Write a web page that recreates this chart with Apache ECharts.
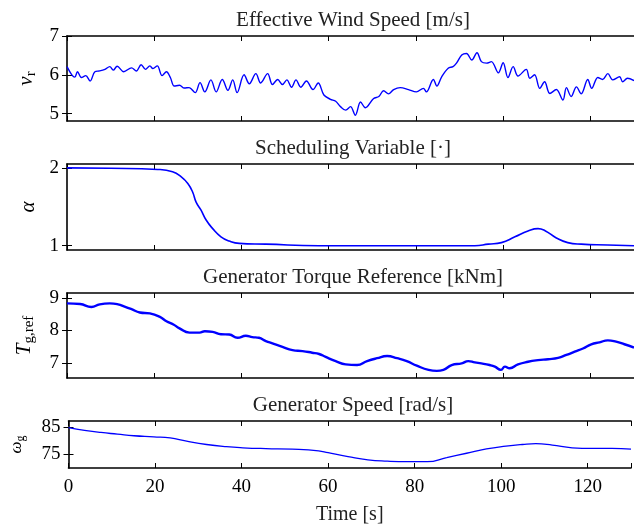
<!DOCTYPE html>
<html><head><meta charset="utf-8">
<script src="https://cdn.jsdelivr.net/npm/echarts@6/dist/echarts.min.js"></script>
<style>html,body{margin:0;padding:0;background:#fff;overflow:hidden}#c{width:634px;height:527px}</style>
</head><body><div id="c"></div>
<script>
// ---- data (time in s) ----
const xTicks = [0, 20, 40, 60, 80, 100, 120];
const titles = ['Effective Wind Speed [m/s]', 'Scheduling Variable [\u00b7]', 'Generator Torque Reference [kNm]', 'Generator Speed [rad/s]'];

const windT = [0,1.1,1.8,2.4,3.3,4.3,5.3,6.4,7.5,8.7,9.8,10.6,11.5,13,14.8,15.9,17,18,19,19.7,20.7,21.8,22.8,23.7,24.6,25.8,26.9,28,29.4,30.5,31.6,33,34.2,35.6,36.9,38,39,40.6,41.8,43.3,44.4,46,47.1,48.3,49.4,50.4,51.5,52.5,53.6,54.9,56.4,57.6,58.9,60.4,61.6,62.7,63.9,65,66.1,67.3,68.4,70.3,71.5,72.6,73.7,74.9,76.4,78.3,80.1,81.7,82.4,84,84.8,85.9,87.4,88.5,89.3,90.5,91.6,92.8,94,95,96.2,97.3,98.9,100,101.1,102.3,103.4,105.3,106.1,107.2,108.4,109.5,110.7,112.2,113.7,114.5,115.6,116.8,117.9,119.4,120.3,121.7,122.8,124,125.1,126.7,127.4,128.5,130];
const windV = [6.21,6.0,5.94,6.08,5.93,5.98,5.84,6.08,6.10,6.14,6.21,6.12,6.22,6.08,6.18,6.10,6.26,6.14,6.23,6.16,6.23,5.98,6.08,5.93,5.71,5.73,5.66,5.67,5.54,5.80,5.56,5.87,5.56,5.88,5.60,5.87,5.54,6.00,5.77,6.03,5.79,6.03,5.75,5.88,5.75,5.87,5.68,5.87,5.68,5.84,5.62,5.79,5.48,5.37,5.32,5.18,5.09,5.18,4.96,5.30,5.15,5.39,5.44,5.59,5.51,5.62,5.67,5.62,5.56,5.65,5.56,5.88,5.71,5.95,6.17,6.21,6.30,6.51,6.55,6.38,6.57,6.34,6.30,6.34,6.05,6.31,5.93,6.21,5.97,6.14,5.91,6.00,5.65,5.82,5.52,5.62,5.35,5.67,5.44,5.69,5.51,5.88,5.65,5.93,5.88,6.03,5.87,5.95,5.82,5.91,5.85];

const alphaT = [0,10,20.8,24.2,26.2,27.7,28.8,29.6,30.7,31.9,33.4,35.3,37.2,39.5,45.6,57.8,80,93.5,96.6,99.6,102.7,105.7,108,109.7,112.2,114.8,117.9,124,130];
const alphaV = [2.0,1.995,1.98,1.95,1.885,1.80,1.69,1.56,1.46,1.33,1.22,1.115,1.06,1.03,1.02,1.0,1.0,1.0,1.02,1.04,1.115,1.19,1.22,1.19,1.10,1.04,1.02,1.01,1.0];

const torqT = [0,3,5.6,7.5,9.8,11.7,13.2,14.8,16.7,19,21.2,22.8,24.4,25.8,28.1,30.4,31.6,33.4,35.3,37.2,39.1,41,42.5,44,45.6,47.1,49.4,51.7,54,56.2,57.8,59.3,61.6,63.9,66.5,68.8,71.1,73.4,75.7,77.9,80.2,82.9,84.8,86.3,88.2,90.5,92,93.5,95,96.9,98.1,99.5,100.4,101.5,103.4,105.7,108,110.3,112.6,114.5,116.4,118.3,120.2,122.1,124,125.9,127.8,130];
const torqV = [8.83,8.81,8.72,8.80,8.83,8.80,8.73,8.65,8.55,8.52,8.42,8.28,8.18,8.06,7.93,7.93,7.97,7.95,7.88,7.87,7.77,7.83,7.79,7.77,7.67,7.60,7.49,7.39,7.36,7.31,7.27,7.18,7.05,6.95,6.93,7.05,7.14,7.21,7.14,7.05,6.91,6.78,6.75,6.78,6.93,6.98,7.05,7.01,6.98,6.93,6.88,6.78,6.88,6.83,6.95,7.03,7.08,7.11,7.15,7.24,7.34,7.44,7.57,7.63,7.69,7.65,7.57,7.47];

const speedT = [0,3.7,7.5,11.3,15.1,19.7,23.5,27.3,31.9,36.5,40.3,45.6,51.7,57.8,60,64.6,69.2,73.7,78.3,82.9,87.4,92,96.6,101.1,104.9,108,111.8,116.4,121,125.6,130];
const speedV = [84.8,83.8,83.0,82.4,81.8,81.4,81.0,79.8,78.6,77.8,77.4,77.1,76.9,76.3,75.6,74.2,73.0,72.5,72.3,72.3,73.8,75.4,77.0,78.0,78.6,78.9,78.4,77.4,77.2,77.2,76.9];

const yTicks = [[5,6,7],[1,2],[7,8,9],[75,85]];
const yRange = [[4.81,7],[0.945,2.05],[6.53,9.15],[70,87.2]];

// ---- layout ----
const FONT = 'Liberation Serif';
const gridTop = [36, 164, 293, 421];
const gridH = [85, 86, 85, 47];
const L = 67, W = 570;
const pairs = (t, v) => t.map((x, i) => [x, v[i]]);
const series = [pairs(windT, windV), pairs(alphaT, alphaV), pairs(torqT, torqV), pairs(speedT, speedV)];
const lineW = [1.4, 1.6, 2.4, 1.3];
const names = ['{i|v}{s|r}', '{i|\u03b1}', '{i|T}{s|g,ref}', '{i2|\u03c9}{s2|g}'];
const nameGaps = [25, 26, 30, 42];

const grids = [], xAxes = [], yAxes = [], ser = [], ttl = [];
for (let k = 0; k < 4; k++) {
  grids.push({ left: L, width: W, top: gridTop[k], height: gridH[k] });
  const axLine = { show: true, onZero: false, lineStyle: { color: '#000', width: 1.6 } };
  const tick = { show: true, inside: true, length: 5, lineStyle: { color: '#000', width: 1 } };
  xAxes.push({ type: 'value', gridIndex: k, min: 0, max: 130, interval: 20, position: 'bottom',
    axisLine: axLine, axisTick: tick, splitLine: { show: false },
    axisLabel: { show: k === 3, color: '#000', fontFamily: FONT, fontSize: 19, margin: 10,
      formatter: v => (xTicks.includes(v) ? String(v) : '') },
    name: k === 3 ? 'Time [s]' : '', nameLocation: 'middle', nameGap: 37,
    nameTextStyle: { color: '#222', fontFamily: FONT, fontSize: 20 } });
  xAxes.push({ type: 'value', gridIndex: k, min: 0, max: 130, interval: 20, position: 'top',
    axisLine: axLine, axisTick: tick, axisLabel: { show: false }, splitLine: { show: false } });
  const yt = yTicks[k];
  yAxes.push({ type: 'value', gridIndex: k, min: yRange[k][0], max: yRange[k][1], position: 'left',
    axisLine: axLine, splitLine: { show: false },
    axisLabel: { color: '#000', fontFamily: FONT, fontSize: 19, margin: 8, customValues: yt },
    axisTick: Object.assign({ customValues: yt }, tick),
    name: names[k], nameLocation: 'middle', nameRotate: 90, nameGap: nameGaps[k],
    nameTextStyle: { color: '#000', fontFamily: FONT, fontSize: 19,
      rich: {
        i: { fontFamily: FONT, fontStyle: 'italic', fontSize: 21 },
        s: { fontFamily: FONT, fontSize: 15, padding: [10, 0, 0, 0] },
        i2: { fontFamily: FONT, fontStyle: 'italic', fontSize: 17 },
        s2: { fontFamily: FONT, fontSize: 12, padding: [8, 0, 0, 0] }
      } } });
  yAxes.push({ type: 'value', gridIndex: k, min: yRange[k][0], max: yRange[k][1], position: 'right',
    axisLine: { show: false }, axisTick: Object.assign({ customValues: yt }, tick),
    axisLabel: { show: false, customValues: yt }, splitLine: { show: false } });
  ser.push({ type: 'line', xAxisIndex: 2 * k, yAxisIndex: 2 * k, data: series[k], showSymbol: false,
    smooth: k === 0 ? 0.35 : 0.5, lineStyle: { color: '#0000ff', width: lineW[k] }, silent: true, animation: false });
  ttl.push({ text: titles[k], left: 348, textAlign: 'center', top: gridTop[k] - 31,
    textStyle: { color: '#222', fontFamily: FONT, fontSize: 21, fontWeight: 'normal' } });
}

const chart = echarts.init(document.getElementById('c'), null, { renderer: 'canvas' });
chart.setOption({ animation: false, backgroundColor: '#fff', title: ttl, grid: grids, xAxis: xAxes, yAxis: yAxes, series: ser });
</script></body></html>
